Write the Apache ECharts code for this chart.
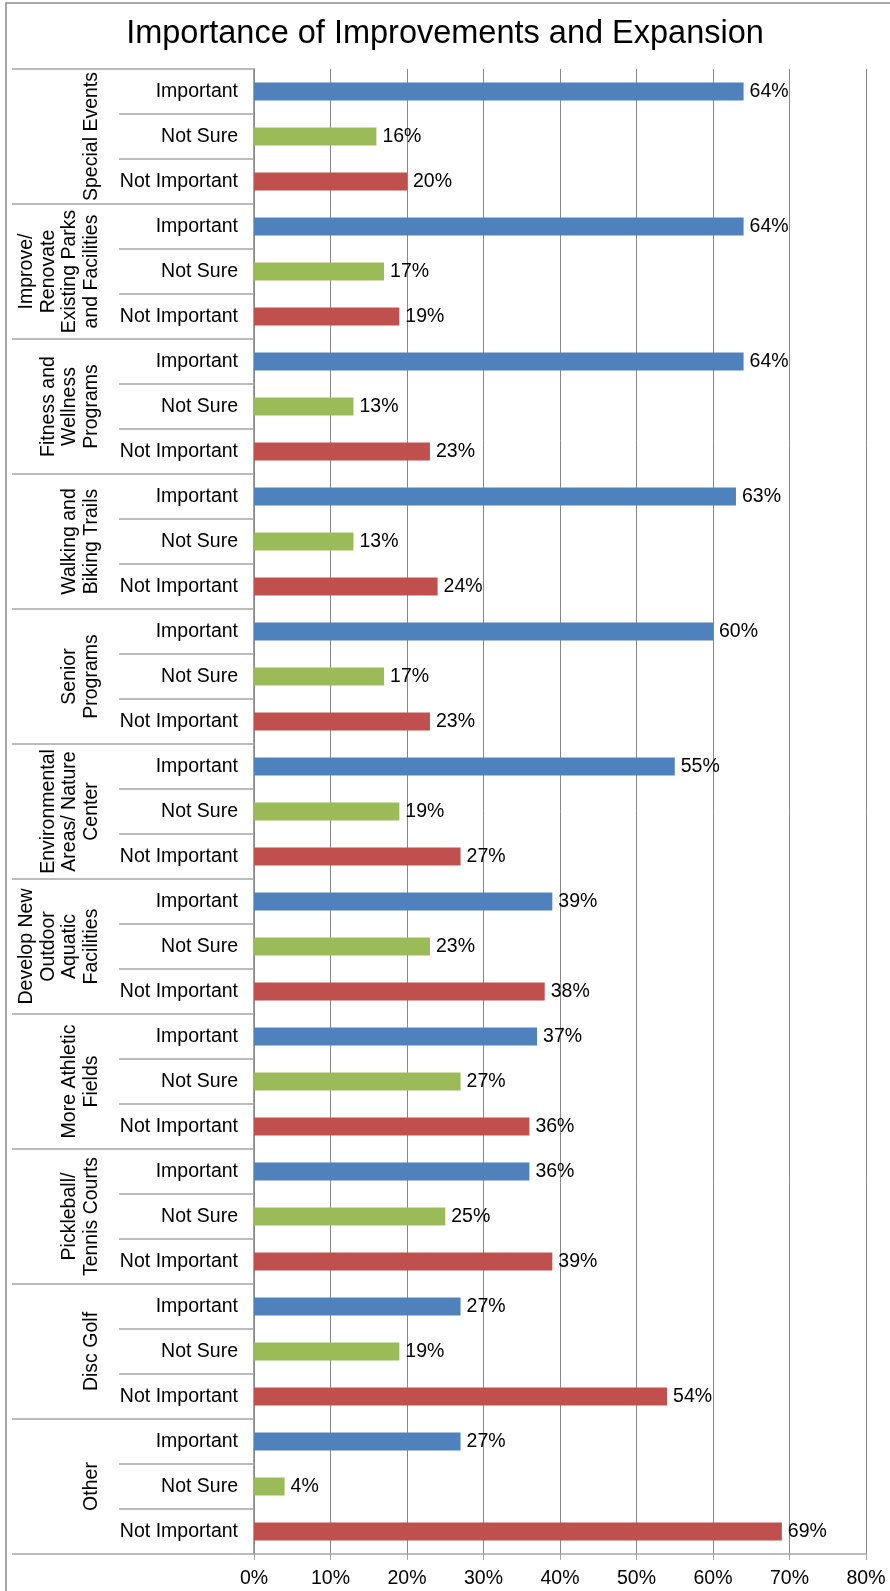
<!DOCTYPE html>
<html>
<head>
<meta charset="utf-8">
<title>Importance of Improvements and Expansion</title>
<script src="https://cdn.jsdelivr.net/npm/echarts@6/dist/echarts.min.js"></script>
<style>
html, body { margin: 0; padding: 0; background: #fff; }
#chart { width: 890px; height: 1591px; }
</style>
</head>
<body>
<div id="chart"></div>
<script>
// categories (top to bottom)
var groups = [
  'Special Events',
  'Improve/\nRenovate\nExisting Parks\nand Facilities',
  'Fitness and\nWellness\nPrograms',
  'Walking and\nBiking Trails',
  'Senior\nPrograms',
  'Environmental\nAreas/ Nature\nCenter',
  'Develop New\nOutdoor\nAquatic\nFacilities',
  'More Athletic\nFields',
  'Pickleball/\nTennis Courts',
  'Disc Golf',
  'Other'
];
var responses = ['Important', 'Not Sure', 'Not Important'];

// values in %
var important    = [64, 64, 64, 63, 60, 55, 39, 37, 36, 27, 27];
var notSure      = [16, 17, 13, 13, 17, 19, 23, 27, 25, 19, 4];
var notImportant = [20, 19, 23, 24, 23, 27, 38, 36, 39, 54, 69];

var xTicks = [0, 10, 20, 30, 40, 50, 60, 70, 80];

var colors = ['#4F81BD', '#9BBB59', '#C0504D'];
var font = "'Liberation Sans', Arial, sans-serif";

// one row per group/response, keys kept unique
var rowKeys = [];
var rowData = [];
var byResponse = [important, notSure, notImportant];
groups.forEach(function (g, gi) {
  responses.forEach(function (r, ri) {
    rowKeys.push(r + '|' + gi);
    rowData.push({ value: byResponse[ri][gi], itemStyle: { color: colors[ri] } });
  });
});

var chart = echarts.init(document.getElementById('chart'));
chart.setOption({
  animation: false,
  backgroundColor: '#fff',
  textStyle: { fontFamily: font },
  title: {
    text: 'Importance of Improvements and Expansion',
    left: 'center',
    top: 13,
    textStyle: { fontSize: 32.5, fontWeight: 'normal', color: '#000', fontFamily: font }
  },
  graphic: [{
    type: 'rect',
    shape: { x: 6, y: 3, width: 900, height: 1600 },
    style: { fill: 'none', stroke: '#8c8c8c', lineWidth: 1.5 },
    silent: true
  }],
  grid: { left: 254, right: 24, top: 69, bottom: 37 },
  xAxis: {
    type: 'value',
    min: xTicks[0],
    max: xTicks[xTicks.length - 1],
    interval: xTicks[1] - xTicks[0],
    axisLine: { show: true, lineStyle: { color: '#a6a6a6', width: 1.5 } },
    axisTick: { show: true, length: 6, lineStyle: { color: '#a6a6a6' } },
    splitLine: { show: true, lineStyle: { color: '#868686', width: 1 } },
    axisLabel: { formatter: '{value}%', fontSize: 19.5, color: '#000', margin: 15, fontFamily: font }
  },
  yAxis: [{
    type: 'category',
    inverse: true,
    data: rowKeys,
    offset: 0,
    axisLine: { show: true, lineStyle: { color: '#868686', width: 1.5 } },
    axisTick: { show: true, interval: 0, length: 135, lineStyle: { color: '#a6a6a6', width: 1.5 } },
    axisLabel: {
      interval: 0, margin: 16, fontSize: 19.5, color: '#000', fontFamily: font,
      formatter: function (v) { return v.split('|')[0]; }
    }
  }, {
    type: 'category',
    inverse: true,
    data: groups,
    position: 'left',
    offset: 0,
    axisLine: { show: false },
    axisTick: { show: true, interval: 0, length: 242, lineStyle: { color: '#a6a6a6', width: 1.5 } },
    axisLabel: {
      interval: 0, rotate: 90, margin: 152, fontSize: 19.5, lineHeight: 21.5,
      color: '#000', fontFamily: font
    }
  }],
  series: [{
    type: 'bar',
    yAxisIndex: 0,
    barWidth: 18,
    data: rowData,
    label: {
      show: true,
      position: 'right',
      distance: 6,
      formatter: '{c}%',
      fontSize: 19.5,
      color: '#000',
      fontFamily: font
    }
  }]
});
</script>
</body>
</html>
